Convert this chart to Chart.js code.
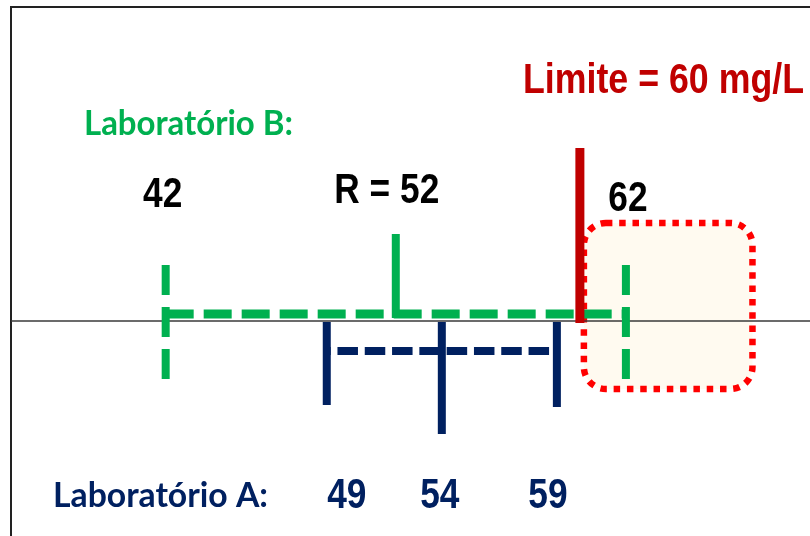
<!DOCTYPE html>
<html>
<head>
<meta charset="utf-8">
<title>Laboratório A x Laboratório B</title>
<script src="https://cdn.jsdelivr.net/npm/chart.js@4/dist/chart.umd.min.js"></script>
<style>
  html, body { margin: 0; padding: 0; background: #fff; }
  canvas { display: block; }
</style>
</head>
<body>
<canvas id="chart" width="810" height="536"></canvas>
<script>
// results in mg/L
var labBRange = [42, 62];      // lab B: lower / upper end
var labBResult = [52];         // lab B: reported result R
var limitValue = [60];         // legal limit
var labARange = [49, 54, 59];  // lab A: lower end, result, upper end

var GREEN = '#00B050', NAVY = '#002060', DARK_RED = '#C00000', RED = '#FF0000';

// vertical layout (y units = pixels above the baseline)
var lay = {
	lineB: 7, tickBTop: 56, tickBBottom: -58, resultTop: 87,
	limitTop: 173, limitBottom: -2,
	lineA: -30, tickATop: -1, tickABottom: [-84, -113, -86],
	zoneEnd: 67.5, zoneTop: 98, zoneBottom: -68
};
var X_MIN = 34.8, X_MAX = 70;
var FRAME_X = 11, FRAME_Y = 7;

var datasets = [];

var seg = function(x0, y0, x1, y1){
	return [{x: x0, y: y0}, {x: x1, y: y1}];
};

var add = function(data, color, width, dash, order, dashOffset){
	datasets.push({
		data: data,
		showLine: true,
		borderColor: color,
		borderWidth: width,
		borderDash: dash || [],
		borderDashOffset: dashOffset || 0,
		borderCapStyle: 'butt',
		pointRadius: 0,
		fill: false,
		order: order
	});
};

// baseline, starting at the frame
var axisStart = X_MIN + (X_MAX - X_MIN) * FRAME_X / 810;
add(seg(axisStart, 0, X_MAX, 0), '#3a3a3a', 1.5, null, 9);

// lab B: dashed range, dashed end ticks, solid result tick
add(seg(labBRange[0], lay.lineB, labBRange[1], lay.lineB), GREEN, 9, [28, 10], 5);
for(var i = 0; i < labBRange.length; i++){
	add(seg(labBRange[i], lay.tickBTop, labBRange[i], lay.tickBBottom), GREEN, 8, [30, 12], 4);
}
add(seg(labBResult[0], lay.lineB - 4, labBResult[0], lay.resultTop), GREEN, 8, null, 4);

// lab A: dashed range and three ticks
add(seg(labARange[0], lay.lineA, labARange[2], lay.lineA), NAVY, 8, [20.5, 6.8], 3, 16.6);
for(var j = 0; j < labARange.length; j++){
	add(seg(labARange[j], lay.tickATop, labARange[j], lay.tickABottom[j]), NAVY, 8, null, 2);
}

// limit
add(seg(limitValue[0], lay.limitTop, limitValue[0], lay.limitBottom), DARK_RED, 9, null, 1);

var NUM_FONT = 'bold 42px "Liberation Sans", Arial, sans-serif';
var HEAD_FONT = 'bold 35px Lato, "Open Sans", sans-serif';

var valueLabels = [
	{v: labBRange[0], text: String(labBRange[0]), dx: -3, base: 207, color: '#000'},
	{v: labBResult[0], text: 'R = ' + labBResult[0], dx: -9, base: 203, color: '#000'},
	{v: labBRange[1], text: String(labBRange[1]), dx: 2, base: 211, color: '#000'},
	{v: labARange[0], text: String(labARange[0]), dx: 20, base: 508, color: NAVY},
	{v: labARange[1], text: String(labARange[1]), dx: -2, base: 508, color: NAVY},
	{v: labARange[2], text: String(labARange[2]), dx: -9, base: 508, color: NAVY}
];

var drawText = function(ctx, str, x, base, font, color, sx, align){
	ctx.save();
	ctx.font = font;
	ctx.fillStyle = color;
	ctx.textAlign = align || 'center';
	ctx.textBaseline = 'alphabetic';
	ctx.translate(x, base);
	ctx.scale(sx, 1);
	ctx.fillText(str, 0, 0);
	ctx.restore();
};

var fitScale = function(ctx, str, font, width){
	ctx.save();
	ctx.font = font;
	var w = ctx.measureText(str).width;
	ctx.restore();
	return width / w;
};

var sketch = {
	id: 'sketch',
	beforeDatasetsDraw: function(chart){
		var ctx = chart.ctx, xs = chart.scales.x, ys = chart.scales.y;

		ctx.save();
		// frame (left and top)
		ctx.strokeStyle = '#222';
		ctx.lineWidth = 2;
		ctx.beginPath();
		ctx.moveTo(FRAME_X, chart.height);
		ctx.lineTo(FRAME_X, FRAME_Y);
		ctx.lineTo(chart.width, FRAME_Y);
		ctx.stroke();

		// zone above the limit
		var l = xs.getPixelForValue(limitValue[0]) + 4;
		var r = xs.getPixelForValue(lay.zoneEnd);
		var t = ys.getPixelForValue(lay.zoneTop);
		var b = ys.getPixelForValue(lay.zoneBottom);
		ctx.beginPath();
		ctx.roundRect(l, t, r - l, b - t, 22);
		ctx.fillStyle = '#FFFAF0';
		ctx.fill();
		ctx.setLineDash([6.5, 6.8]);
		ctx.lineWidth = 6.5;
		ctx.strokeStyle = RED;
		ctx.stroke();
		ctx.restore();
	},
	afterDatasetsDraw: function(chart){
		var ctx = chart.ctx, xs = chart.scales.x;

		for(var k = 0; k < valueLabels.length; k++){
			var lb = valueLabels[k];
			drawText(ctx, lb.text, xs.getPixelForValue(lb.v) + lb.dx, lb.base, NUM_FONT, lb.color, 0.84);
		}

		var limText = 'Limite = ' + limitValue[0] + ' mg/L';
		drawText(ctx, limText, 804, 93, NUM_FONT, DARK_RED, fitScale(ctx, limText, NUM_FONT, 281), 'right');

		var headB = 'Laboratório B:', headA = 'Laboratório A:';
		drawText(ctx, headB, 84, 135, HEAD_FONT, GREEN, fitScale(ctx, headB, HEAD_FONT, 209), 'left');
		drawText(ctx, headA, 53, 507, HEAD_FONT, NAVY, fitScale(ctx, headA, HEAD_FONT, 215), 'left');
	}
};

new Chart(document.getElementById('chart'), {
	type: 'scatter',
	data: {datasets: datasets},
	options: {
		responsive: false,
		animation: false,
		devicePixelRatio: 1,
		layout: {padding: 0},
		scales: {
			x: {type: 'linear', min: X_MIN, max: X_MAX, display: false},
			y: {type: 'linear', min: -215, max: 321, display: false}
		},
		plugins: {
			legend: {display: false},
			tooltip: {enabled: false}
		}
	},
	plugins: [sketch]
});
</script>
</body>
</html>
